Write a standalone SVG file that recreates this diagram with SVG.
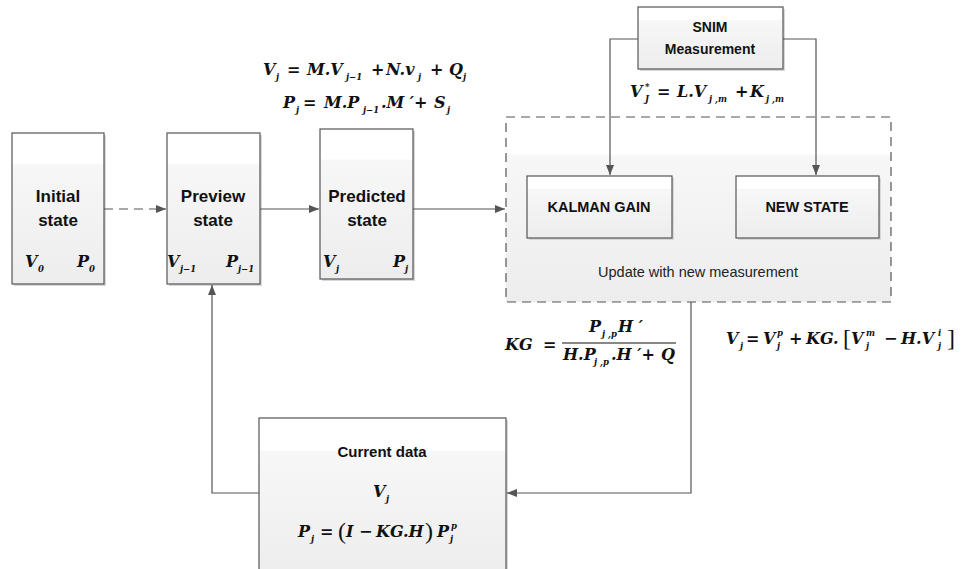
<svg xmlns="http://www.w3.org/2000/svg" width="961" height="569" viewBox="0 0 961 569">
<defs>
<linearGradient id="g" x1="0" y1="0" x2="0" y2="1">
<stop offset="0" stop-color="#ffffff"/><stop offset="0.2" stop-color="#ffffff"/><stop offset="0.21" stop-color="#f7f7f7"/><stop offset="1" stop-color="#ededed"/>
</linearGradient>
<marker id="ah" viewBox="0 0 10 10" refX="10" refY="5" markerWidth="10" markerHeight="10" markerUnits="userSpaceOnUse" orient="auto">
<path d="M0,1 L10,5 L0,9 z" fill="#555"/>
</marker>
</defs>
<style>
.box{fill:url(#g);stroke:#555;stroke-width:1.2}
.sh{fill:#d8d8d8}
.lbl{font-family:"Liberation Sans",Arial,sans-serif;font-weight:bold;fill:#111;text-anchor:middle}
.m{font-family:"DejaVu Serif","Liberation Serif",serif;font-weight:bold;font-style:italic;fill:#111;font-size:16px}
.s{font-size:8.5px}
.n{font-style:normal;font-weight:normal;font-family:"Liberation Serif",serif}
.c{fill:none;stroke:#555;stroke-width:1.2}
</style>
<rect width="961" height="569" fill="#fff"/>

<g id="update-group">
<rect x="506" y="117" width="385" height="185" fill="url(#g)" stroke="#555" stroke-width="1.2" stroke-dasharray="9,6"/>
<text x="698" y="277" font-family="Liberation Sans,Arial,sans-serif" font-size="14.5" fill="#222" text-anchor="middle">Update with new measurement</text>
</g>

<g id="initial">
<rect class="sh" x="14" y="135" width="92" height="151"/>
<rect class="box" x="12" y="133" width="92" height="151"/>
<text class="lbl" font-size="17" x="58" y="202">Initial</text>
<text class="lbl" font-size="17" x="58" y="226">state</text>
<text class="m"><tspan x="25" y="267">V</tspan><tspan class="s" x="38" y="272">0</tspan></text>
<text class="m"><tspan x="77" y="267">P</tspan><tspan class="s" x="89" y="272">0</tspan></text>
</g>

<g id="preview">
<rect class="sh" x="169" y="135" width="93" height="151"/>
<rect class="box" x="167" y="133" width="93" height="151"/>
<text class="lbl" font-size="17" x="213" y="202">Preview</text>
<text class="lbl" font-size="17" x="213" y="226">state</text>
<text class="m"><tspan x="167" y="267">V</tspan><tspan class="s" x="180" y="272">j−1</tspan></text>
<text class="m"><tspan x="226" y="267">P</tspan><tspan class="s" x="238" y="272">j−1</tspan></text>
</g>

<g id="predicted">
<rect class="sh" x="322" y="131" width="93" height="150"/>
<rect class="box" x="320" y="129" width="93" height="150"/>
<text class="lbl" font-size="17" x="367" y="202">Predicted</text>
<text class="lbl" font-size="17" x="367" y="226">state</text>
<text class="m"><tspan x="323" y="267">V</tspan><tspan class="s" x="336" y="272">j</tspan></text>
<text class="m"><tspan x="393" y="267">P</tspan><tspan class="s" x="405" y="272">j</tspan></text>
</g>

<g id="snim">
<rect class="sh" x="640" y="9" width="145" height="62"/>
<rect class="box" x="638" y="7" width="145" height="62"/>
<text class="lbl" font-size="14" x="710" y="32">SNIM</text>
<text class="lbl" font-size="14" x="710" y="54">Measurement</text>
</g>

<g id="kalman">
<rect class="sh" x="529" y="178" width="145" height="62"/>
<rect class="box" x="527" y="176" width="145" height="62"/>
<text class="lbl" font-size="14.5" x="599" y="212">KALMAN GAIN</text>
</g>

<g id="newstate">
<rect class="sh" x="738" y="178" width="143" height="62"/>
<rect class="box" x="736" y="176" width="143" height="62"/>
<text class="lbl" font-size="14.5" x="807" y="212">NEW STATE</text>
</g>

<g id="current">
<rect class="sh" x="261" y="420" width="247" height="155"/>
<rect class="box" x="259" y="418" width="247" height="160"/>
<text class="lbl" font-size="15" x="382" y="457">Current data</text>
<text class="m"><tspan x="373" y="497">V</tspan><tspan class="s" x="386" y="502">j</tspan></text>
<text class="m"><tspan x="298" y="537">P</tspan><tspan class="s" x="311" y="542">j</tspan><tspan x="320" y="537">=</tspan><tspan class="n" font-size="24" x="338" y="539">(</tspan><tspan x="346" y="537">I</tspan><tspan x="359" y="537">−</tspan><tspan x="376" y="537">KG.H</tspan><tspan class="n" font-size="24" x="425" y="539">)</tspan><tspan x="437" y="537">P</tspan><tspan class="s" x="450" y="542">j</tspan><tspan class="s" x="451" y="529">p</tspan></text>
</g>

<g id="equations">
<text class="m"><tspan x="263" y="75">V</tspan><tspan class="s" x="276" y="80">j</tspan><tspan x="287" y="75">=</tspan><tspan x="307" y="75">M.V</tspan><tspan class="s" x="346" y="80">j−1</tspan><tspan x="371" y="75">+</tspan><tspan x="386" y="75">N.v</tspan><tspan class="s" x="418" y="80">j</tspan><tspan x="430" y="75">+</tspan><tspan x="449" y="75">Q</tspan><tspan class="s" x="463" y="80">j</tspan></text>
<text class="m"><tspan x="283" y="108">P</tspan><tspan class="s" x="296" y="113">j</tspan><tspan x="303" y="108">=</tspan><tspan x="324" y="108">M.P</tspan><tspan class="s" x="363" y="113">j−1</tspan><tspan x="381" y="108">.M ′+</tspan><tspan x="434" y="108">S</tspan><tspan class="s" x="447" y="113">j</tspan></text>
<text class="m"><tspan x="630" y="97">V</tspan><tspan class="s" x="645" y="90">*</tspan><tspan class="s" x="645" y="102">J</tspan><tspan x="657" y="97">=</tspan><tspan x="677" y="97">L.V</tspan><tspan class="s" x="709" y="102">j ,m</tspan><tspan x="735" y="97">+</tspan><tspan x="750" y="97">K</tspan><tspan class="s" x="766" y="102">j ,m</tspan></text>
<text class="m"><tspan x="505" y="350">KG</tspan><tspan x="543" y="350">=</tspan></text>
<text class="m"><tspan x="589" y="332">P</tspan><tspan class="s" x="602" y="337">j ,p</tspan><tspan x="618" y="332">H ′</tspan></text>
<line x1="562" y1="343" x2="676" y2="343" stroke="#111" stroke-width="1.2"/>
<text class="m"><tspan x="563" y="360">H.P</tspan><tspan class="s" x="594" y="365">j ,p</tspan><tspan x="611" y="360">.H ′+</tspan><tspan x="661" y="360">Q</tspan></text>
<text class="m"><tspan x="726" y="344">V</tspan><tspan class="s" x="740" y="349">j</tspan><tspan x="746" y="344">=</tspan><tspan x="763" y="344">V</tspan><tspan class="s" x="777" y="349">j</tspan><tspan class="s" x="777" y="336">p</tspan><tspan x="789" y="344">+</tspan><tspan x="806" y="344">KG.</tspan><tspan class="n" font-size="24" x="843" y="346">[</tspan><tspan x="851" y="344">V</tspan><tspan class="s" x="866" y="349">j</tspan><tspan class="s" x="866" y="336">m</tspan><tspan x="884" y="344">−</tspan><tspan x="901" y="344">H.V</tspan><tspan class="s" x="938" y="349">j</tspan><tspan class="s" x="938" y="336">i</tspan><tspan class="n" font-size="24" x="947" y="346">]</tspan></text>
</g>

<g id="connectors">
<line class="c" x1="104" y1="209" x2="166" y2="209" stroke-dasharray="9,6" marker-end="url(#ah)"/>
<line class="c" x1="260" y1="209" x2="319" y2="209" marker-end="url(#ah)"/>
<line class="c" x1="413" y1="209" x2="505" y2="209" marker-end="url(#ah)"/>
<polyline class="c" points="638,39 610,39 610,175" marker-end="url(#ah)"/>
<polyline class="c" points="783,39 816,39 816,175" marker-end="url(#ah)"/>
<polyline class="c" points="691,302 691,493 507,493" marker-end="url(#ah)"/>
<polyline class="c" points="259,493 212,493 212,285" marker-end="url(#ah)"/>
</g>
</svg>
